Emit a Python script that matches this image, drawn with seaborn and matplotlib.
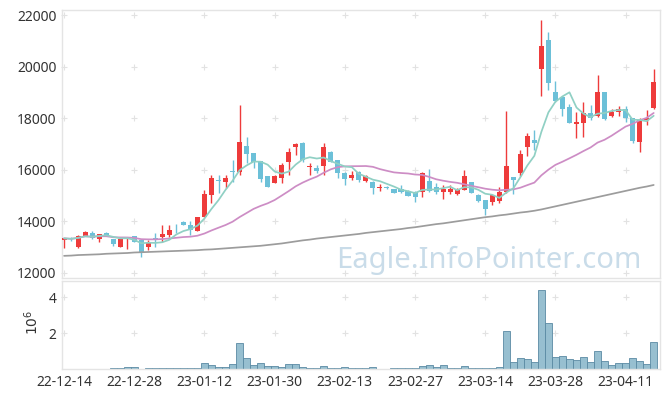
"""
Candlestick chart with moving averages and volume panel
"""

import numpy as np
import pandas as pd
import matplotlib
matplotlib.use("Agg")
import matplotlib.pyplot as plt
import seaborn as sns

# trading-day candles: body low/high, wick low/high, up (red) or down (blue)
body_low = [13270, 13300, 13000, 13430, 13340, 13320, 13430, 13110, 13020, 13300,
            13190, 12760, 13020, 13290, 13410, 13470, 13800, 13860, 13670, 13640,
            14180, 15020, 15560, 15540, 15920, 15930, 16600, 16310, 15640, 15350,
            15500, 15690, 16310, 16900, 16380, 16110, 15940, 16130, 16310, 15860,
            15630, 15670, 15610, 15580, 15280, 15310, 15280, 15090, 15150, 14990,
            14960, 15150, 15180, 15150, 15150, 15140, 15050, 15220, 15110, 14800,
            14460, 14730, 14800, 15150, 15610, 15890, 16900, 17030, 19900, 19380,
            18680, 18340, 17830, 17790, 17830, 17990, 18090, 17960, 18100, 18240,
            17990, 17130, 17090, 17930, 18390]
body_high = [13340, 13330, 13430, 13600, 13560, 13500, 13560, 13300, 13320, 13360,
             13430, 13260, 13210, 13340, 13490, 13670, 13830, 13990, 13860, 14160,
             15050, 15670, 15590, 15670, 15950, 17090, 16920, 16640, 16340, 15740,
             15760, 16190, 16700, 17010, 17050, 16150, 16070, 16900, 16700, 16380,
             15890, 15800, 15930, 15760, 15540, 15330, 15350, 15240, 15240, 15190,
             15150, 15890, 15570, 15350, 15250, 15240, 15220, 15760, 15510, 15020,
             14830, 15020, 15150, 16150, 15710, 16610, 17310, 17160, 20800, 21030,
             19020, 18810, 18420, 17850, 18190, 18190, 19020, 19020, 18250, 18370,
             18360, 17990, 17930, 18000, 19420]
low = [12980, 13230, 12950, 13420, 13330, 13200, 13420, 13060, 13010, 12930,
       13180, 12610, 12890, 13020, 13210, 13380, 13560, 13840, 13480, 13620,
       14150, 14710, 15100, 15300, 15540, 15800, 16250, 16060, 15540, 15340,
       15480, 15500, 15800, 16570, 16300, 15800, 15880, 15800, 16300, 15700,
       15410, 15590, 15540, 15520, 15060, 15180, 15270, 15080, 15100, 14980,
       14750, 14960, 15150, 15070, 14870, 15060, 15010, 15200, 15100, 14740,
       14250, 14640, 14700, 15100, 15060, 15750, 16540, 16760, 18860, 19090,
       18620, 18080, 17830, 17220, 17260, 17950, 18060, 17950, 18050, 18100,
       17870, 17030, 16700, 17720, 18350]
high = [13360, 13400, 13450, 13640, 13620, 13510, 13570, 13310, 13330, 13380,
        13440, 13280, 13280, 13550, 13860, 13840, 13880, 14000, 14030, 14180,
        15220, 15800, 15800, 15800, 16380, 18510, 17260, 16650, 16350, 15750,
        15780, 16250, 16830, 17050, 17060, 16270, 16200, 17020, 16710, 16390,
        15900, 15960, 15940, 15780, 15550, 15440, 15360, 15250, 15420, 15200,
        15160, 15930, 16020, 15480, 15420, 15420, 15280, 15990, 15520, 15060,
        14840, 15040, 15340, 18280, 15720, 16780, 17410, 17540, 21830, 21350,
        19460, 18850, 18540, 18250, 18640, 18500, 19670, 19030, 18350, 18480,
        18470, 18000, 17990, 18310, 19900]
is_up = [1, 0, 1, 1, 0, 1, 0, 0, 1, 1,
         0, 0, 1, 0, 1, 1, 0, 0, 0, 1,
         1, 1, 0, 1, 0, 1, 0, 0, 0, 0,
         1, 1, 1, 1, 0, 1, 0, 1, 0, 0,
         0, 1, 0, 1, 0, 1, 0, 0, 0, 0,
         0, 1, 0, 0, 1, 1, 1, 1, 0, 0,
         0, 1, 1, 1, 0, 1, 1, 0, 1, 0,
         0, 0, 0, 1, 1, 0, 1, 0, 1, 1,
         0, 0, 1, 1, 1]

# 120-day average
ma120 = [12660, 12670, 12690, 12700, 12710, 12720, 12740, 12750, 12760, 12770,
         12790, 12800, 12810, 12820, 12830, 12840, 12850, 12860, 12870, 12880,
         12900, 12910, 12930, 12950, 12970, 12990, 13010, 13030, 13050, 13080,
         13110, 13140, 13180, 13220, 13260, 13290, 13330, 13360, 13390, 13420,
         13450, 13480, 13510, 13550, 13580, 13610, 13640, 13670, 13700, 13740,
         13770, 13810, 13850, 13890, 13920, 13960, 14000, 14040, 14080, 14120,
         14160, 14190, 14230, 14260, 14300, 14340, 14370, 14410, 14460, 14520,
         14580, 14640, 14700, 14760, 14820, 14880, 14940, 15000, 15060, 15120,
         15180, 15240, 15300, 15350, 15410]

# volume in millions of shares
volume = [0.02, 0.02, 0.01, 0.02, 0.02, 0.01, 0.02, 0.05, 0.05, 0.1,
          0.1, 0.02, 0.05, 0.05, 0.08, 0.08, 0.05, 0.05, 0.05, 0.05,
          0.33, 0.22, 0.11, 0.11, 0.27, 1.42, 0.6, 0.22, 0.33, 0.16,
          0.16, 0.11, 0.27, 0.27, 0.11, 0.05, 0.05, 0.16, 0.05, 0.05,
          0.11, 0.05, 0.05, 0.05, 0.11, 0.01, 0.01, 0.04, 0.04, 0.04,
          0.04, 0.16, 0.22, 0.11, 0.22, 0.05, 0.05, 0.16, 0.05, 0.05,
          0.05, 0.05, 0.11, 2.13, 0.4, 0.6, 0.56, 0.4, 4.42, 2.56,
          0.65, 0.71, 0.56, 0.51, 0.65, 0.4, 1.0, 0.45, 0.25, 0.35,
          0.35, 0.6, 0.45, 0.29, 1.5]

tick_pos = [0, 10, 20, 30, 40, 50, 60, 70, 80]
tick_labels = ['22-12-14', '22-12-28', '23-01-12', '23-01-30', '23-02-13',
               '23-02-27', '23-03-14', '23-03-28', '23-04-11']

UP = '#ee3b3b'
DOWN = '#6cc0d8'
GRID = '#e2e2e2'
SPINE = '#e4e4e4'

sns.set_theme(style='white')
plt.rcParams['font.family'] = ['Noto Sans', 'DejaVu Sans']

df = pd.DataFrame({'body_low': body_low, 'body_high': body_high,
                   'low': low, 'high': high, 'up': is_up,
                   'ma120': ma120, 'volume': volume})
df['idx'] = np.arange(len(df))
df['close'] = np.where(df['up'] == 1, df['body_high'], df['body_low'])
df['ma5'] = df['close'].rolling(5, min_periods=1).mean()
df['ma20'] = df['close'].rolling(20, min_periods=1).mean()
df['color'] = np.where(df['up'] == 1, UP, DOWN)

W, H = 665, 397
fig = plt.figure(figsize=(W / 100, H / 100), dpi=100)
ax = fig.add_axes([62 / W, 1 - 278 / H, 598 / W, 268 / H])
axv = fig.add_axes([62 / W, 1 - 369 / H, 598 / W, 88 / H])

xlim = (-0.3, 84.9)

# '+' grid marks at tick crossings
price_ticks = [12000, 14000, 16000, 18000, 20000, 22000]
gx, gy = np.meshgrid(tick_pos, price_ticks)
ax.scatter(gx.ravel(), gy.ravel(), marker='+', s=20, color=GRID,
           linewidths=0.8, zorder=0, clip_on=False)
vol_ticks = [2, 4]
gx, gy = np.meshgrid(tick_pos, vol_ticks)
axv.scatter(gx.ravel(), gy.ravel(), marker='+', s=20, color=GRID,
            linewidths=0.8, zorder=0, clip_on=False)

# candles
ax.vlines(df['idx'], df['low'], df['high'], colors=df['color'], linewidth=1.0, zorder=2)
body_h = np.maximum(df['body_high'] - df['body_low'], 35)
ax.bar(df['idx'], body_h, bottom=df['body_low'], width=0.72,
       color=df['color'], linewidth=0, zorder=3)

# moving averages
sns.lineplot(data=df, x='idx', y='ma120', ax=ax, color='#9c9c9c', linewidth=1.25, zorder=4)
sns.lineplot(data=df, x='idx', y='ma20', ax=ax, color='#cd8dc5', linewidth=1.25, zorder=4)
sns.lineplot(data=df, x='idx', y='ma5', ax=ax, color='#90d0c4', linewidth=1.25, zorder=5)

ax.text(0.714, 0.067, 'Eagle.InfoPointer.com', transform=ax.transAxes,
        ha='center', va='center', fontsize=21, color='#c9dce9', zorder=1)

ax.set_xlim(*xlim)
ax.set_ylim(11800, 22200)
ax.set_yticks(price_ticks)
ax.set_yticklabels([str(v) for v in price_ticks])
ax.set_xticks([])
ax.set_xlabel('')
ax.set_ylabel('')

# volume
sns.barplot(data=df, x='idx', y='volume', ax=axv, native_scale=True, width=1.0,
            color='#97bfd0', edgecolor='#5a8aa3', linewidth=0.6, saturation=1,
            errorbar=None, zorder=2)
axv.set_xlim(*xlim)
axv.set_ylim(0, 4.9)
axv.set_yticks(vol_ticks)
axv.set_yticklabels(['2', '4'])
axv.set_xticks(tick_pos)
axv.set_xticklabels(tick_labels)
axv.set_xlabel('')
axv.set_ylabel('')
fig.text(33 / W, 1 - 322 / H, r'$10^{6}$', rotation=90, ha='center', va='center',
         fontsize=10, color='#333333')

for a in (ax, axv):
    for s in a.spines.values():
        s.set_color(SPINE)
        s.set_linewidth(1.0)
    a.tick_params(axis='both', length=0, labelsize=10, colors='#333333', pad=4)

plt.savefig('out.png', dpi=100)
